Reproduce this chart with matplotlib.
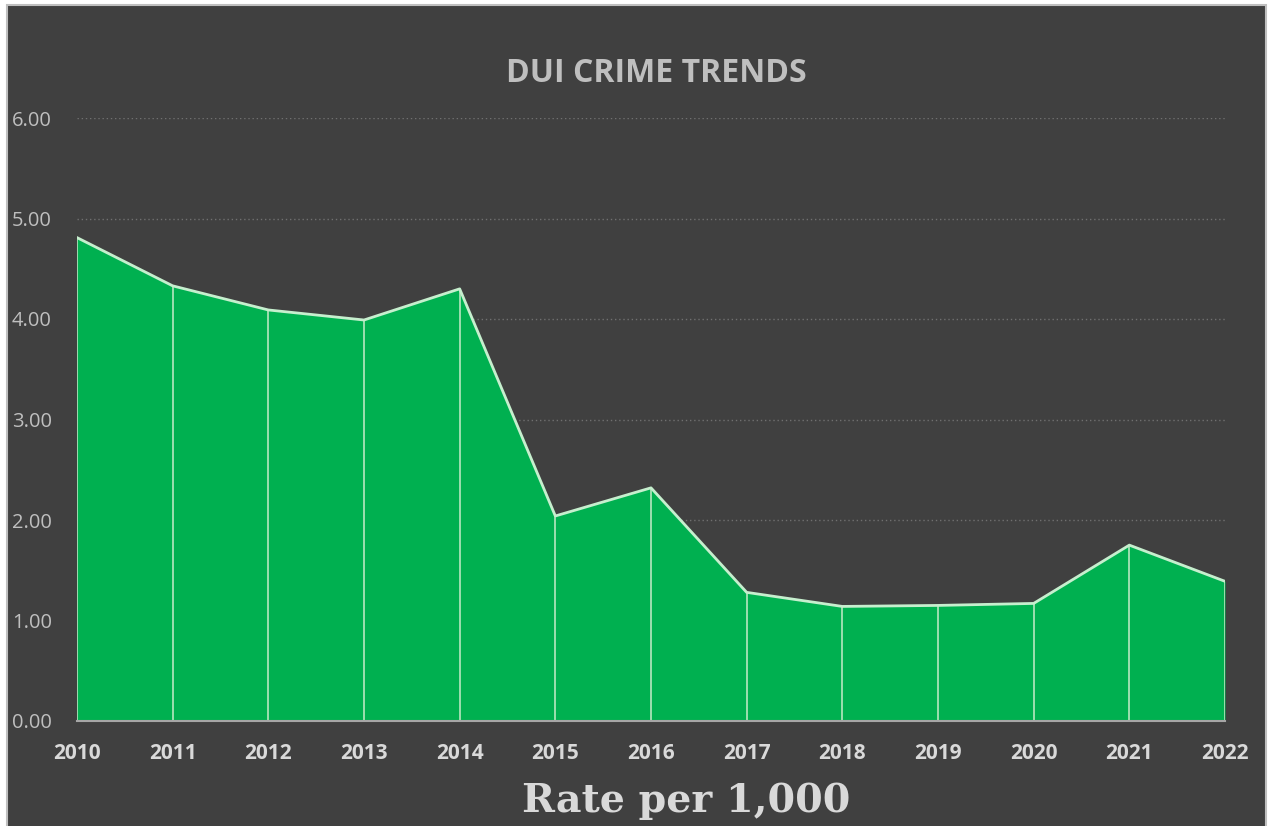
import matplotlib
matplotlib.use("Agg")
import matplotlib.pyplot as plt
from matplotlib.patches import Rectangle

years = [2010, 2011, 2012, 2013, 2014, 2015, 2016, 2017, 2018, 2019, 2020, 2021, 2022]
rates = [4.81, 4.33, 4.09, 3.99, 4.30, 2.04, 2.32, 1.28, 1.14, 1.15, 1.17, 1.75, 1.39]
y_ticks = [0, 1, 2, 3, 4, 5, 6]

bg = "#404040"
green = "#00B050"
W, H = 1268, 826

fig = plt.figure(figsize=(W / 100, H / 100), dpi=100, facecolor="white")
# dark chart area with thin grey frame (bottom edge runs off the canvas)
fig.patches.append(Rectangle((7 / W, -10 / H), 1259 / W, 831 / H,
                             transform=fig.transFigure, facecolor=bg,
                             edgecolor="#BFBFBF", linewidth=1.5, zorder=-1))

ax = fig.add_axes([77 / W, 105 / H, 1148 / W, 603 / H])
ax.set_facecolor("none")

ax.fill_between(years, rates, 0, color=green, linewidth=0, zorder=2)
ax.plot(years, rates, color="#C6EFCE", linewidth=2, zorder=4)
ax.vlines(years, 0, rates, color="#A9E2B7", linewidth=1.3, zorder=3)

ax.set_xlim(2010, 2022)
ax.set_ylim(0, 6)
ax.set_yticks(y_ticks)
ax.set_yticklabels([f"{v:.2f}" for v in y_ticks])
ax.set_xticks(years)
ax.set_xticklabels([str(y) for y in years])

ax.grid(axis="y", color="#707070", linestyle=(0, (1, 2)), linewidth=1, zorder=1)
ax.set_axisbelow(True)
for side in ["left", "right", "top"]:
    ax.spines[side].set_visible(False)
ax.spines["bottom"].set_color("#A6A6A6")
ax.spines["bottom"].set_linewidth(1.5)
ax.spines["bottom"].set_zorder(5)

ax.tick_params(axis="both", length=0)
ax.tick_params(axis="y", pad=46.8, labelsize=14.5, labelcolor="#BFBFBF")
for lbl in ax.get_yticklabels():
    lbl.set_horizontalalignment("left")
    lbl.set_family("Open Sans")
ax.tick_params(axis="x", pad=16, labelsize=15, labelcolor="#D9D9D9")
for lbl in ax.get_xticklabels():
    lbl.set_family("Open Sans")
    lbl.set_fontweight("bold")

fig.text(656 / W, 1 - 73.5 / H, "DUI CRIME TRENDS", ha="center", va="center",
         fontsize=23, fontweight="bold", color="#BFBFBF", family="Open Sans")
fig.text(686 / W, 1 - 812 / H, "Rate per 1,000", ha="center", va="baseline",
         fontsize=28.5, fontweight="bold", color="#D9D9D9", family="DejaVu Serif")

fig.savefig("out.png", dpi=100, facecolor=fig.get_facecolor())
